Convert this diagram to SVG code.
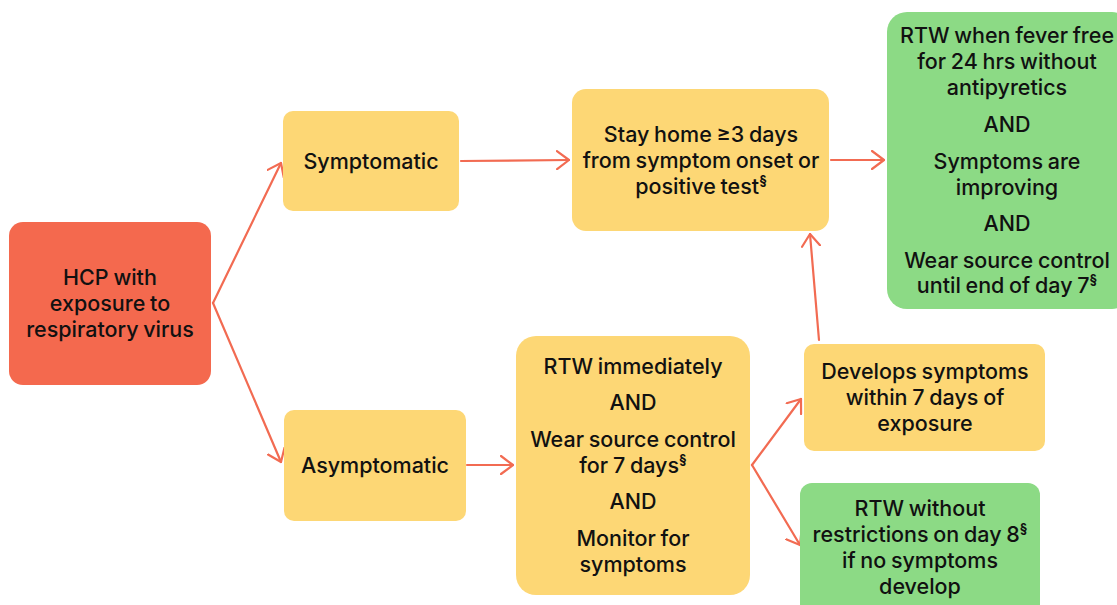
<svg xmlns="http://www.w3.org/2000/svg" width="1117" height="605" viewBox="0 0 1117 605">
<style>
.t{font-family:Inter,"Noto Sans","Liberation Sans",sans-serif;font-size:21.5px;font-weight:500;fill:#111;text-anchor:middle;dominant-baseline:central;word-spacing:-1px}
.s{font-size:13px;font-weight:700}
.red{fill:#F4694E}.yel{fill:#FDD775}.grn{fill:#8CDA85}
.c{fill:none;stroke:#F26B52;stroke-width:2.2;stroke-linecap:round;stroke-linejoin:round}
</style>
<defs>
<marker id="ah" viewBox="0 0 14 20" refX="13" refY="10" markerWidth="14" markerHeight="20" markerUnits="userSpaceOnUse" orient="auto">
<path d="M1,1 L13,10 L1,19" fill="none" stroke="#F26B52" stroke-width="2.2" stroke-linecap="round" stroke-linejoin="round"/>
</marker>
</defs>
<rect width="1117" height="605" fill="#fff"/>
<g id="connectors">
<path class="c" d="M213,303 L281,163" marker-end="url(#ah)"/>
<path class="c" d="M213,303 L281,462" marker-end="url(#ah)"/>
<path class="c" d="M461,161 L569,160" marker-end="url(#ah)"/>
<path class="c" d="M831,160 L884,160" marker-end="url(#ah)"/>
<path class="c" d="M467,465 L513,465" marker-end="url(#ah)"/>
<path class="c" d="M752,465 L801,399" marker-end="url(#ah)"/>
<path class="c" d="M752,465 L800,545" marker-end="url(#ah)"/>
<path class="c" d="M819,340 L810,234" marker-end="url(#ah)"/>
</g>
<g id="hcp">
<rect class="red" x="9" y="222" width="202" height="163" rx="14"/>
<text class="t" x="110" y="277">HCP with</text>
<text class="t" x="110" y="303">exposure to</text>
<text class="t" x="110" y="329">respiratory virus</text>
</g>
<g id="symptomatic">
<rect class="yel" x="283" y="111" width="176" height="100" rx="10"/>
<text class="t" x="371" y="161">Symptomatic</text>
</g>
<g id="asymptomatic">
<rect class="yel" x="284" y="410" width="182" height="111" rx="10"/>
<text class="t" x="375" y="465">Asymptomatic</text>
</g>
<g id="stayhome">
<rect class="yel" x="572" y="89" width="257" height="142" rx="14"/>
<text class="t" x="701" y="134">Stay home ≥3 days</text>
<text class="t" x="701" y="160">from symptom onset or</text>
<text class="t" x="701" y="186">positive test<tspan class="s" dy="-6">§</tspan></text>
</g>
<g id="rtw-fever">
<rect class="grn" x="887" y="12" width="245" height="297" rx="20"/>
<text class="t" x="1007" y="35">RTW when fever free</text>
<text class="t" x="1007" y="61">for 24 hrs without</text>
<text class="t" x="1007" y="87">antipyretics</text>
<text class="t" x="1007" y="124">AND</text>
<text class="t" x="1007" y="161">Symptoms are</text>
<text class="t" x="1007" y="187">improving</text>
<text class="t" x="1007" y="223">AND</text>
<text class="t" x="1007" y="260">Wear source control</text>
<text class="t" x="1007" y="285">until end of day 7<tspan class="s" dy="-6">§</tspan></text>
</g>
<g id="rtw-immediately">
<rect class="yel" x="516" y="336" width="234" height="259" rx="20"/>
<text class="t" x="633" y="366">RTW immediately</text>
<text class="t" x="633" y="402">AND</text>
<text class="t" x="633" y="439">Wear source control</text>
<text class="t" x="633" y="465">for 7 days<tspan class="s" dy="-6">§</tspan></text>
<text class="t" x="633" y="501">AND</text>
<text class="t" x="633" y="538">Monitor for</text>
<text class="t" x="633" y="564">symptoms</text>
</g>
<g id="develops">
<rect class="yel" x="804" y="344" width="241" height="107" rx="10"/>
<text class="t" x="925" y="371">Develops symptoms</text>
<text class="t" x="925" y="397">within 7 days of</text>
<text class="t" x="925" y="423">exposure</text>
</g>
<g id="rtw-day8">
<rect class="grn" x="800" y="483" width="240" height="140" rx="12"/>
<text class="t" x="920" y="508">RTW without</text>
<text class="t" x="920" y="534">restrictions on day 8<tspan class="s" dy="-6">§</tspan></text>
<text class="t" x="920" y="560">if no symptoms</text>
<text class="t" x="920" y="586">develop</text>
</g>
</svg>
